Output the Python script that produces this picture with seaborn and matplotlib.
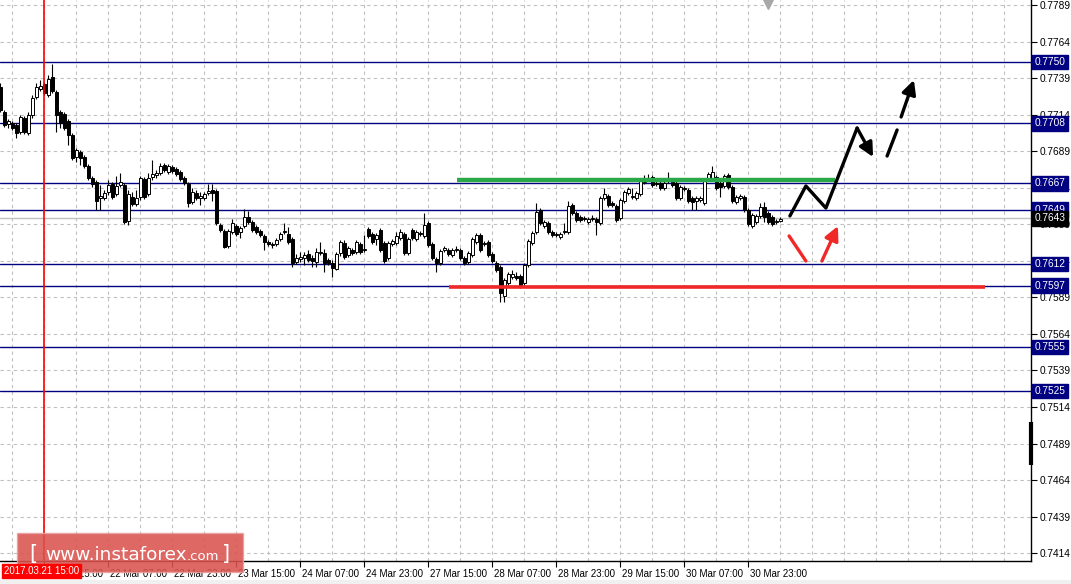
import numpy as np
import pandas as pd
import matplotlib
matplotlib.use("Agg")
import matplotlib.pyplot as plt
import seaborn as sns
from matplotlib.transforms import blended_transform_factory, ScaledTranslation
from matplotlib.patches import Rectangle

sns.set_style("white")
plt.rcParams['font.family'] = ['Liberation Sans', 'DejaVu Sans']

# ---------------- data (AUD/USD H1) ----------------
opens = [0.77329, 0.77158, 0.77076, 0.77083, 0.77069, 0.77021, 0.77117, 0.77014, 0.77137, 0.77261,
         0.77315, 0.77349, 0.77274, 0.77397, 0.77295, 0.77158, 0.77144, 0.77096, 0.77001, 0.76850,
         0.76884, 0.76850, 0.76789, 0.76707, 0.76679, 0.76570, 0.76570, 0.76611, 0.76665, 0.76597,
         0.76659, 0.76659, 0.76412, 0.76577, 0.76529, 0.76577, 0.76700, 0.76597, 0.76713, 0.76727,
         0.76741, 0.76795, 0.76748, 0.76782, 0.76768, 0.76748, 0.76707, 0.76665, 0.76542, 0.76604,
         0.76570, 0.76570, 0.76604, 0.76624, 0.76618, 0.76385, 0.76344, 0.76241, 0.76337, 0.76378,
         0.76337, 0.76378, 0.76440, 0.76405, 0.76371, 0.76344, 0.76310, 0.76269, 0.76248, 0.76255,
         0.76289, 0.76337, 0.76323, 0.76289, 0.76132, 0.76152, 0.76159, 0.76187, 0.76159, 0.76132,
         0.76194, 0.76194, 0.76146, 0.76125, 0.76084, 0.76194, 0.76262, 0.76180, 0.76214, 0.76200,
         0.76255, 0.76214, 0.76358, 0.76323, 0.76289, 0.76351, 0.76262, 0.76159, 0.76255, 0.76262,
         0.76296, 0.76323, 0.76194, 0.76351, 0.76289, 0.76323, 0.76310, 0.76399, 0.76255, 0.76152,
         0.76125, 0.76214, 0.76214, 0.76180, 0.76214, 0.76214, 0.76159, 0.76132, 0.76180, 0.76269,
         0.76317, 0.76255, 0.76269, 0.76187, 0.76125, 0.76098, 0.75899, 0.75988, 0.76029, 0.76036,
         0.76036, 0.75988, 0.76111, 0.76262, 0.76337, 0.76488, 0.76378, 0.76399, 0.76337, 0.76317,
         0.76303, 0.76337, 0.76337, 0.76522, 0.76467, 0.76440, 0.76426, 0.76405, 0.76426, 0.76426,
         0.76399, 0.76570, 0.76583, 0.76536, 0.76515, 0.76433, 0.76549, 0.76604, 0.76577, 0.76570,
         0.76597, 0.76679, 0.76700, 0.76713, 0.76665, 0.76672, 0.76638, 0.76686, 0.76686, 0.76672,
         0.76570, 0.76631, 0.76624, 0.76570, 0.76549, 0.76556, 0.76536, 0.76700, 0.76707, 0.76713,
         0.76672, 0.76652, 0.76727, 0.76645, 0.76542, 0.76570, 0.76577, 0.76488, 0.76378, 0.76405,
         0.76447, 0.76508, 0.76467, 0.76440, 0.76405, 0.76412]
highs = [0.77356, 0.77172, 0.77110, 0.77096, 0.77083, 0.77137, 0.77131, 0.77158, 0.77274, 0.77356,
         0.77377, 0.77363, 0.77411, 0.77486, 0.77308, 0.77172, 0.77158, 0.77110, 0.77014, 0.76912,
         0.76898, 0.76864, 0.76802, 0.76720, 0.76693, 0.76659, 0.76624, 0.76693, 0.76679, 0.76720,
         0.76741, 0.76672, 0.76624, 0.76611, 0.76624, 0.76720, 0.76713, 0.76741, 0.76830, 0.76761,
         0.76809, 0.76809, 0.76802, 0.76795, 0.76782, 0.76761, 0.76720, 0.76679, 0.76638, 0.76624,
         0.76611, 0.76611, 0.76665, 0.76665, 0.76631, 0.76399, 0.76358, 0.76358, 0.76426, 0.76392,
         0.76378, 0.76494, 0.76481, 0.76419, 0.76385, 0.76358, 0.76323, 0.76282, 0.76269, 0.76296,
         0.76337, 0.76399, 0.76371, 0.76303, 0.76187, 0.76200, 0.76200, 0.76214, 0.76180, 0.76228,
         0.76269, 0.76221, 0.76159, 0.76146, 0.76200, 0.76282, 0.76282, 0.76241, 0.76228, 0.76282,
         0.76269, 0.76317, 0.76371, 0.76337, 0.76330, 0.76364, 0.76276, 0.76276, 0.76289, 0.76337,
         0.76358, 0.76337, 0.76303, 0.76364, 0.76351, 0.76344, 0.76467, 0.76412, 0.76269, 0.76166,
         0.76221, 0.76241, 0.76228, 0.76228, 0.76241, 0.76228, 0.76173, 0.76207, 0.76303, 0.76330,
         0.76330, 0.76276, 0.76282, 0.76200, 0.76139, 0.76111, 0.76023, 0.76064, 0.76077, 0.76064,
         0.76050, 0.76125, 0.76289, 0.76344, 0.76536, 0.76501, 0.76419, 0.76412, 0.76351, 0.76337,
         0.76337, 0.76399, 0.76549, 0.76536, 0.76481, 0.76453, 0.76447, 0.76440, 0.76453, 0.76440,
         0.76583, 0.76638, 0.76597, 0.76549, 0.76529, 0.76570, 0.76624, 0.76645, 0.76638, 0.76618,
         0.76700, 0.76727, 0.76734, 0.76727, 0.76686, 0.76686, 0.76686, 0.76748, 0.76700, 0.76686,
         0.76659, 0.76652, 0.76638, 0.76583, 0.76583, 0.76583, 0.76707, 0.76748, 0.76789, 0.76727,
         0.76686, 0.76734, 0.76741, 0.76659, 0.76590, 0.76597, 0.76590, 0.76501, 0.76467, 0.76460,
         0.76536, 0.76542, 0.76481, 0.76453, 0.76426, 0.76440]
lows = [0.77158, 0.77055, 0.77048, 0.77035, 0.76980, 0.77007, 0.77007, 0.77001, 0.77117, 0.77247,
        0.77302, 0.77274, 0.77261, 0.77288, 0.77021, 0.77048, 0.77035, 0.76932, 0.76830, 0.76816,
        0.76795, 0.76775, 0.76693, 0.76645, 0.76488, 0.76488, 0.76556, 0.76590, 0.76563, 0.76583,
        0.76645, 0.76392, 0.76385, 0.76515, 0.76515, 0.76556, 0.76563, 0.76583, 0.76693, 0.76707,
        0.76727, 0.76748, 0.76734, 0.76741, 0.76720, 0.76686, 0.76659, 0.76508, 0.76529, 0.76556,
        0.76522, 0.76556, 0.76590, 0.76549, 0.76385, 0.76337, 0.76228, 0.76228, 0.76323, 0.76310,
        0.76296, 0.76364, 0.76392, 0.76337, 0.76323, 0.76303, 0.76214, 0.76241, 0.76228, 0.76241,
        0.76276, 0.76323, 0.76255, 0.76098, 0.76118, 0.76132, 0.76111, 0.76132, 0.76098, 0.76098,
        0.76180, 0.76064, 0.76111, 0.76029, 0.76077, 0.76173, 0.76152, 0.76166, 0.76180, 0.76187,
        0.76187, 0.76200, 0.76296, 0.76255, 0.76248, 0.76200, 0.76125, 0.76146, 0.76241, 0.76248,
        0.76282, 0.76180, 0.76180, 0.76282, 0.76276, 0.76310, 0.76296, 0.76235, 0.76146, 0.76064,
        0.76111, 0.76200, 0.76173, 0.76166, 0.76200, 0.76146, 0.76111, 0.76118, 0.76166, 0.76255,
        0.76200, 0.76241, 0.76166, 0.76125, 0.76064, 0.75858, 0.75858, 0.75975, 0.76016, 0.76009,
        0.75954, 0.75975, 0.76098, 0.76248, 0.76323, 0.76385, 0.76364, 0.76323, 0.76303, 0.76303,
        0.76289, 0.76323, 0.76323, 0.76453, 0.76405, 0.76405, 0.76412, 0.76392, 0.76412, 0.76317,
        0.76385, 0.76556, 0.76508, 0.76508, 0.76405, 0.76419, 0.76536, 0.76590, 0.76563, 0.76556,
        0.76583, 0.76665, 0.76686, 0.76645, 0.76652, 0.76624, 0.76624, 0.76672, 0.76645, 0.76556,
        0.76556, 0.76618, 0.76536, 0.76488, 0.76488, 0.76542, 0.76522, 0.76686, 0.76693, 0.76624,
        0.76577, 0.76638, 0.76631, 0.76536, 0.76529, 0.76556, 0.76474, 0.76378, 0.76364, 0.76392,
        0.76433, 0.76405, 0.76392, 0.76378, 0.76392, 0.76405]
closes = [0.77172, 0.77069, 0.77096, 0.77048, 0.77014, 0.77124, 0.77021, 0.77137, 0.77254, 0.77329,
          0.77336, 0.77288, 0.77384, 0.77302, 0.77137, 0.77083, 0.77048, 0.77001, 0.76843, 0.76898,
          0.76843, 0.76789, 0.76707, 0.76665, 0.76549, 0.76583, 0.76604, 0.76659, 0.76577, 0.76652,
          0.76679, 0.76405, 0.76597, 0.76529, 0.76570, 0.76707, 0.76577, 0.76707, 0.76734, 0.76741,
          0.76789, 0.76761, 0.76789, 0.76754, 0.76734, 0.76700, 0.76672, 0.76536, 0.76611, 0.76570,
          0.76583, 0.76597, 0.76618, 0.76604, 0.76399, 0.76351, 0.76235, 0.76344, 0.76399, 0.76323,
          0.76364, 0.76440, 0.76405, 0.76351, 0.76337, 0.76317, 0.76269, 0.76255, 0.76255, 0.76282,
          0.76323, 0.76344, 0.76269, 0.76125, 0.76159, 0.76166, 0.76180, 0.76146, 0.76139, 0.76200,
          0.76200, 0.76125, 0.76125, 0.76091, 0.76187, 0.76269, 0.76166, 0.76228, 0.76194, 0.76269,
          0.76200, 0.76221, 0.76310, 0.76269, 0.76317, 0.76214, 0.76139, 0.76262, 0.76276, 0.76310,
          0.76337, 0.76194, 0.76289, 0.76296, 0.76337, 0.76330, 0.76385, 0.76248, 0.76159, 0.76125,
          0.76207, 0.76228, 0.76187, 0.76214, 0.76221, 0.76159, 0.76125, 0.76194, 0.76289, 0.76317,
          0.76214, 0.76262, 0.76180, 0.76139, 0.76077, 0.75920, 0.76009, 0.76050, 0.76050, 0.76023,
          0.75968, 0.76111, 0.76276, 0.76330, 0.76474, 0.76399, 0.76405, 0.76337, 0.76317, 0.76323,
          0.76323, 0.76344, 0.76515, 0.76467, 0.76419, 0.76419, 0.76433, 0.76426, 0.76433, 0.76405,
          0.76570, 0.76597, 0.76522, 0.76522, 0.76419, 0.76556, 0.76611, 0.76631, 0.76583, 0.76604,
          0.76686, 0.76707, 0.76707, 0.76659, 0.76672, 0.76638, 0.76672, 0.76693, 0.76659, 0.76570,
          0.76645, 0.76638, 0.76549, 0.76542, 0.76570, 0.76570, 0.76693, 0.76734, 0.76748, 0.76638,
          0.76645, 0.76720, 0.76645, 0.76549, 0.76577, 0.76583, 0.76488, 0.76392, 0.76453, 0.76447,
          0.76508, 0.76440, 0.76405, 0.76392, 0.76412, 0.76426]

bar_times = pd.DatetimeIndex(
    list(pd.date_range("2017-03-21 04:00", "2017-03-24 23:00", freq="h")) +
    list(pd.date_range("2017-03-27 00:00", periods=104, freq="h")))

time_labels = ["21 Mar 15:00", "22 Mar 07:00", "22 Mar 23:00", "23 Mar 15:00",
               "24 Mar 07:00", "24 Mar 23:00", "27 Mar 15:00", "28 Mar 07:00",
               "28 Mar 23:00", "29 Mar 15:00", "30 Mar 07:00", "30 Mar 23:00"]
marker_time_label = "2017.03.21 15:00"

price_ticks = [0.7414, 0.7439, 0.7464, 0.7489, 0.7514, 0.7539, 0.7564, 0.7589,
               0.7614, 0.7639, 0.7664, 0.7689, 0.7714, 0.7739, 0.7764, 0.7789]
level_prices = [0.7750, 0.7708, 0.7667, 0.7649, 0.7612, 0.7597, 0.7555, 0.7525]
bid_price = 0.7643

# analyst drawings (bar index, price)
resist_x = [114.2, 208.7]; resist_y = 0.7669
support_x = [112.2, 246.2]; support_y = 0.7596
fc_black_x = [197.4, 201.4, 206.4, 214.2, 218.2]
fc_black_y = [0.76447, 0.76652, 0.76501, 0.77048, 0.76850]
fc_dash_x = [221.7, 224.2]; fc_dash_y = [0.76857, 0.77035]
fc_up_x = [225.2, 228.4]; fc_up_y = [0.77124, 0.77377]
fc_red1_x = [197.2, 201.4]; fc_red1_y = [0.76310, 0.76139]
fc_red2_x = [205.4, 209.4]; fc_red2_y = [0.76139, 0.76378]

# ---------------- figure ----------------
W, H = 1071, 584
FS_X = 7.0
FS_Y = 7.3
fig = plt.figure(figsize=(W / 100, H / 100), dpi=100)
fig.patch.set_facecolor("white")
ax = fig.add_axes([0, 23 / H, 1031 / W, 561 / H])
ax.set_facecolor("white")

df = pd.DataFrame({"open": opens, "high": highs, "low": lows, "close": closes})
df["x"] = np.arange(len(df))

ax.set_xlim(-0.075, 257.675)
ax.set_ylim(0.74087, 0.77924)

# grid
for gx in np.arange(3, 258, 8):
    ax.axvline(gx, color="#c0c0c0", lw=0.8, ls=(0, (3, 3)), zorder=0.5)
for gy in price_ticks:
    ax.axhline(gy, color="#c0c0c0", lw=0.8, ls=(0, (3, 3)), zorder=0.5)

# level lines
for p in level_prices:
    ax.axhline(p, color="#000080", lw=1.0, zorder=1)
ax.axhline(bid_price, color="#c0c0c0", lw=1.0, zorder=1)

# candles
ax.vlines(df["x"], df["low"], df["high"], color="black", lw=0.8, zorder=2)
up = df["close"] >= df["open"]
body_bottom = np.minimum(df["open"], df["close"])
body_h = np.maximum(np.abs(df["close"] - df["open"]), 0.00002)
ax.bar(df["x"][up], body_h[up], bottom=body_bottom[up], width=0.72,
       color="white", edgecolor="black", linewidth=0.7, zorder=3)
ax.bar(df["x"][~up], body_h[~up], bottom=body_bottom[~up], width=0.72,
       color="black", edgecolor="black", linewidth=0.7, zorder=3)

# vertical red period line
mark_idx = int(np.where(bar_times == pd.Timestamp("2017-03-21 15:00"))[0][0])
ax.axvline(mark_idx, color="red", lw=1.2, zorder=4)

# resistance / support
ax.plot(resist_x, [resist_y, resist_y], color="#2aa748", lw=3.2, solid_capstyle="butt", zorder=5)
ax.plot(support_x, [support_y, support_y], color="#f02828", lw=2.6, solid_capstyle="butt", zorder=5)

# forecast arrows
sns.lineplot(x=fc_black_x[:4], y=fc_black_y[:4], sort=False, estimator=None,
             color="black", lw=2.4, ax=ax, zorder=6)
arr = dict(arrowstyle="-|>,head_length=0.7,head_width=0.35", lw=2.4,
           shrinkA=0, shrinkB=0, mutation_scale=12)
ax.annotate("", xy=(fc_black_x[4], fc_black_y[4]), xytext=(fc_black_x[3], fc_black_y[3]),
            arrowprops=dict(color="black", **arr), zorder=6)
ax.plot(fc_dash_x, fc_dash_y, color="black", lw=2.4, zorder=6)
ax.annotate("", xy=(fc_up_x[1], fc_up_y[1]), xytext=(fc_up_x[0], fc_up_y[0]),
            arrowprops=dict(color="black", **arr), zorder=6)
ax.plot(fc_red1_x, fc_red1_y, color="#f02828", lw=2.4, zorder=6)
ax.annotate("", xy=(fc_red2_x[1], fc_red2_y[1]), xytext=(fc_red2_x[0], fc_red2_y[0]),
            arrowprops=dict(color="#f02828", **arr), zorder=6)

# spines
for s in ["left", "top"]:
    ax.spines[s].set_visible(False)
for s in ["right", "bottom"]:
    ax.spines[s].set_visible(True)
    ax.spines[s].set_color("black")
    ax.spines[s].set_linewidth(1.0)

# y axis on right
ax.yaxis.tick_right()
ax.set_yticks(price_ticks)
ax.set_yticklabels([f"{v:.4f}" for v in price_ticks])
ax.tick_params(axis="y", direction="out", length=4, width=0.8, pad=2,
               labelsize=FS_Y, colors="black", left=False, right=True)

# x axis
label_idx = []
for lab in time_labels:
    for i, t in enumerate(bar_times):
        if f"{t.day} Mar {t:%H:%M}" == lab:
            label_idx.append(i)
            break
ax.set_xticks(label_idx)
ax.set_xticklabels(time_labels)
ax.tick_params(axis="x", direction="out", length=4, width=0.8, pad=1.8,
               labelsize=FS_X, colors="black", bottom=True)
off = ScaledTranslation(1.5 / 100, 0, fig.dpi_scale_trans)
for lbl in ax.get_xticklabels():
    lbl.set_ha("left")
    lbl.set_transform(lbl.get_transform() + off)
ax.set_xlabel("")
ax.set_ylabel("")

# level boxes on price scale
btr = blended_transform_factory(ax.transAxes, ax.transData) + ScaledTranslation(3.5 / 100, 0, fig.dpi_scale_trans)
for p in level_prices:
    ax.text(1.0, p, f"{p:.4f}", transform=btr, ha="left", va="center", color="white",
            fontsize=FS_Y, clip_on=False, zorder=10,
            bbox=dict(boxstyle="square,pad=0.22", fc="#000080", ec="#000080"))
ax.text(1.0, bid_price, f"{bid_price:.4f}", transform=btr, ha="left", va="center", color="white",
        fontsize=FS_Y, clip_on=False, zorder=11,
        bbox=dict(boxstyle="square,pad=0.22", fc="black", ec="black"))

# small black bar on price scale
ax.plot([1.0, 1.0], [0.75038, 0.74743], transform=blended_transform_factory(ax.transAxes, ax.transData),
        color="black", lw=3, clip_on=False, zorder=9, solid_capstyle="butt")
# shift marker at top
ax.plot([191.9], [0.7790], marker="v", ms=7, color="#a8a8a8", clip_on=False, zorder=9)

# red time marker label
fig.text(4 / W, 1 - 571 / H, marker_time_label, color="white", fontsize=FS_X, ha="left", va="center",
         bbox=dict(boxstyle="square,pad=0.18", fc="#ff0000", ec="#ff0000"), zorder=20)

# watermark
fig.patches.append(Rectangle((17 / W, 1 - 572 / H), 226 / W, 39 / H, transform=fig.transFigure,
                             facecolor="#d9534f", edgecolor="#e8a0a0", alpha=0.88, lw=1, zorder=15))
base = 1 - 560 / H
wm_font = ["DejaVu Sans"]
fig.text(29 / W, base, "[", color="white", fontsize=15, family=wm_font, va="baseline", zorder=16)
t1 = fig.text(45 / W, base, "www.instaforex", color="white", fontsize=13.3, family=wm_font,
              va="baseline", zorder=16)
fig.canvas.draw()
bb = t1.get_window_extent()
t2 = fig.text(bb.x1 / W, base, ".com", color="white", fontsize=9.5, family=wm_font, va="baseline", zorder=16)
fig.canvas.draw()
bb2 = t2.get_window_extent()
fig.text((bb2.x1 + 3) / W, base, "]", color="white", fontsize=15, family=wm_font, va="baseline", zorder=16)

# window bottom strip
fig.patches.append(Rectangle((0, 0), 1, 4 / H, transform=fig.transFigure,
                             facecolor="#f0f0f0", edgecolor="none", zorder=0))

fig.savefig("out.png", dpi=100)
